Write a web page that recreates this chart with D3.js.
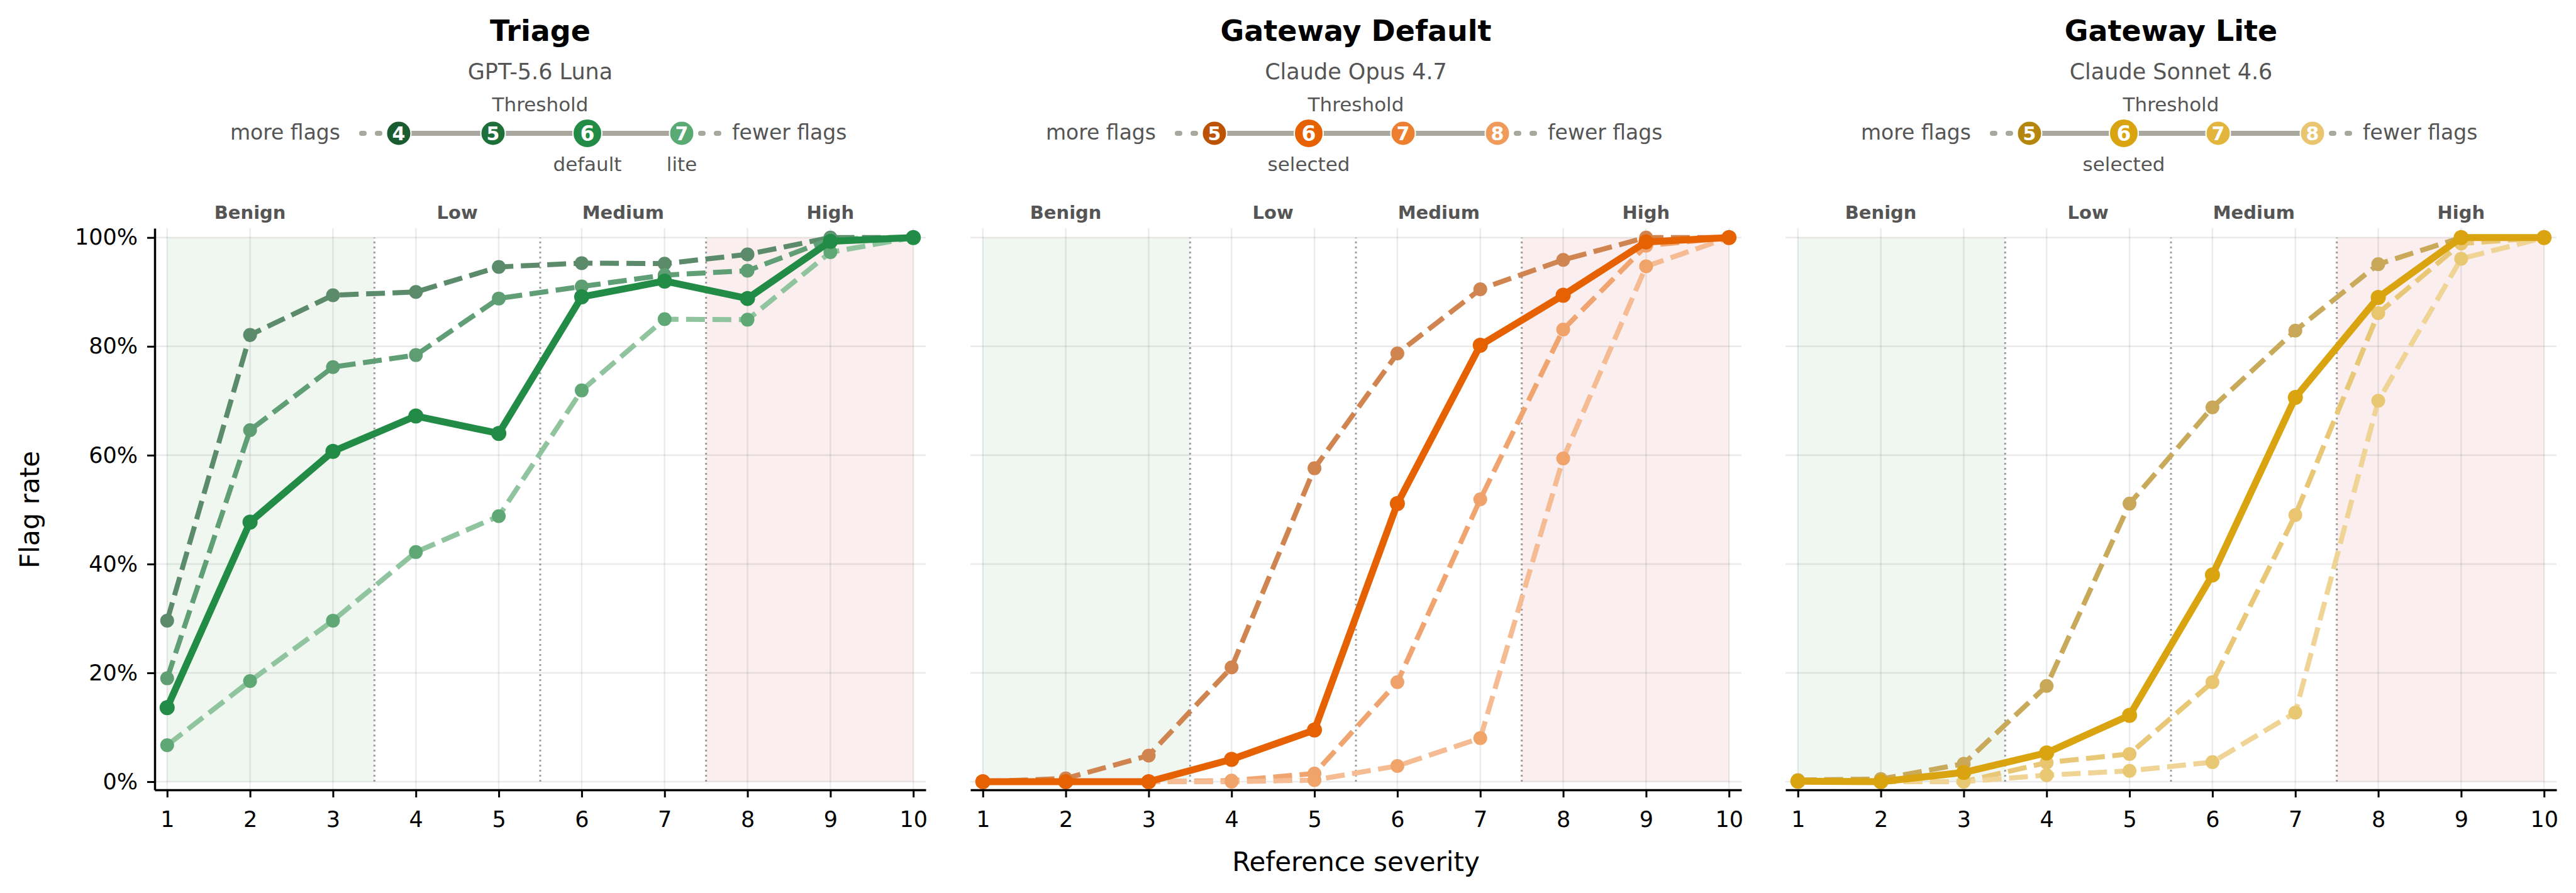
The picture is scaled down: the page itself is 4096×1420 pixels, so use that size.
<!DOCTYPE html>
<html>
<head>
<meta charset="utf-8">
<script src="https://cdn.jsdelivr.net/npm/d3@7"></script>
<style>
  body { margin: 0; background: #fff; }
  svg { display: block; font-family: "DejaVu Sans", sans-serif; }
</style>
</head>
<body>
<svg width="4096" height="1420"></svg>
<script>
'use strict'

// ---- data ----
const SEVERITY = [1, 2, 3, 4, 5, 6, 7, 8, 9, 10];
const Y_TICKS = [0, 0.2, 0.4, 0.6, 0.8, 1];
const BAND_NAMES = ['Benign', 'Low', 'Medium', 'High'];
const BAND_CENTERS = [2, 4.5, 6.5, 9];
const BAND_EDGES = [3.5, 5.5, 7.5];

const PANEL_TITLES = ['Triage', 'Gateway Default', 'Gateway Lite'];
const PANEL_MODELS = ['GPT-5.6 Luna', 'Claude Opus 4.7', 'Claude Sonnet 4.6'];
const PANEL_THRESHOLDS = [[4, 5, 6, 7], [5, 6, 7, 8], [5, 6, 7, 8]];
const PANEL_SELECTED = [6, 6, 6];
const THRESHOLD_NOTES = [{ 6: 'default', 7: 'lite' }, { 6: 'selected' }, { 6: 'selected' }];

// flag rate (%) by reference severity 1..10
const triage4 = [29.6, 82.1, 89.4, 90.0, 94.6, 95.3, 95.2, 96.9, 100, 100];
const triage5 = [19.0, 64.6, 76.2, 78.4, 88.8, 91.0, 93.1, 93.9, 99.7, 100];
const triage6 = [13.6, 47.7, 60.7, 67.2, 64.0, 89.1, 92.0, 88.8, 99.3, 100];
const triage7 = [6.7, 18.5, 29.6, 42.2, 48.8, 71.9, 85.0, 84.9, 97.3, 100];

const gwDefault5 = [0, 0.6, 4.8, 21.0, 57.6, 78.7, 90.5, 95.9, 100, 100];
const gwDefault6 = [0, 0, 0, 4.1, 9.5, 51.1, 80.2, 89.4, 99.2, 100];
const gwDefault7 = [0, 0, 0, 0.2, 1.5, 18.3, 51.9, 83.1, 98.5, 100];
const gwDefault8 = [0, 0, 0, 0, 0.3, 2.9, 8.0, 59.4, 94.7, 100];

const gwLite5 = [0.3, 0.5, 3.3, 17.6, 51.1, 68.8, 82.9, 95.1, 100, 100];
const gwLite6 = [0.1, 0, 1.7, 5.3, 12.2, 38.0, 70.6, 89.0, 100, 100];
const gwLite7 = [0, 0, 0, 3.5, 5.1, 18.3, 49.0, 86.1, 98.9, 100];
const gwLite8 = [0, 0, 0, 1.2, 2.0, 3.6, 12.7, 70.0, 96.1, 100];

const PANEL_RATES = [
  [triage4, triage5, triage6, triage7],
  [gwDefault5, gwDefault6, gwDefault7, gwDefault8],
  [gwLite5, gwLite6, gwLite7, gwLite8]
];

// ---- styles ----
const PALETTES = [
  {
    badge: ['#185c2f', '#1c7038', '#228b45', '#5aaa74'],
    line:  ['#5b8b6a', '#609e75', '#228b45', '#8fc49f'],
    dot:   ['#5b8b6a', '#5f9d73', '#228b45', '#5fa876']
  },
  {
    badge: ['#bb5204', '#e66101', '#ec7f30', '#f09a5c'],
    line:  ['#d0844f', '#e66101', '#f0a470', '#f5bb92'],
    dot:   ['#d0844f', '#e66101', '#f0a26c', '#f0a46a']
  },
  {
    badge: ['#b5860d', '#d9a40f', '#e2b53c', '#e8c56e'],
    line:  ['#c9a95a', '#d9a40f', '#e8c777', '#efd495'],
    dot:   ['#c9a85a', '#d9a40f', '#e8c56e', '#e8c872']
  }
];

const AX_LEFT = [246, 1543, 2839];
const AX_WIDTH = 1226;
const AX_TOP = 363;
const AX_BOTTOM = 1256;
const GREY_TEXT = '#555555';
const LEGEND_GREY = '#a9a89f';

const svg = d3.select('svg');

const y = d3.scaleLinear().domain([-0.015, 1.017]).range([AX_BOTTOM, AX_TOP]);

PANEL_TITLES.forEach((title, p) => drawPanel(p));

// shared labels
svg.append('text')
  .attr('transform', `translate(62, ${y(0.5)}) rotate(-90)`)
  .attr('text-anchor', 'middle')
  .style('font-size', '42px')
  .text('Flag rate');

svg.append('text')
  .attr('x', AX_LEFT[1] + AX_WIDTH / 2)
  .attr('y', 1385)
  .attr('text-anchor', 'middle')
  .style('font-size', '42px')
  .text('Reference severity');

function drawPanel(p) {
  const x = d3.scaleLinear().domain([0.85, 10.15]).range([AX_LEFT[p], AX_LEFT[p] + AX_WIDTH]);
  const pal = PALETTES[p];
  const thresholds = PANEL_THRESHOLDS[p];
  const g = svg.append('g');
  const cx = x(5.5);

  // header
  g.append('text').attr('x', cx).attr('y', 65).attr('text-anchor', 'middle')
    .style('font-size', '46px').style('font-weight', 'bold').text(PANEL_TITLES[p]);
  g.append('text').attr('x', cx).attr('y', 126).attr('text-anchor', 'middle')
    .style('font-size', '35px').attr('fill', GREY_TEXT).text(PANEL_MODELS[p]);
  g.append('text').attr('x', cx).attr('y', 177).attr('text-anchor', 'middle')
    .style('font-size', '31px').attr('fill', GREY_TEXT).text('Threshold');

  // threshold legend
  const legendY = 212;
  const step = 150;
  const lx = d3.scaleLinear().domain([0, thresholds.length - 1])
    .range([cx - step * (thresholds.length - 1) / 2, cx + step * (thresholds.length - 1) / 2]);
  const first = lx(0), last = lx(thresholds.length - 1);

  g.append('line').attr('x1', first).attr('x2', last).attr('y1', legendY).attr('y2', legendY)
    .attr('stroke', LEGEND_GREY).attr('stroke-width', 8);
  // dotted continuation beyond the ends
  [-32, -57, 32, 57].forEach(o => {
    const base = o < 0 ? first : last;
    g.append('line').attr('x1', base + o - 2).attr('x2', base + o + 2)
      .attr('y1', legendY).attr('y2', legendY)
      .attr('stroke', LEGEND_GREY).attr('stroke-width', 8).attr('stroke-linecap', 'round');
  });

  g.append('text').attr('x', first - 93).attr('y', legendY + 10).attr('text-anchor', 'end')
    .style('font-size', '33px').attr('fill', GREY_TEXT).text('more flags');
  g.append('text').attr('x', last + 80).attr('y', legendY + 10).attr('text-anchor', 'start')
    .style('font-size', '33px').attr('fill', GREY_TEXT).text('fewer flags');

  thresholds.forEach((t, i) => {
    const sel = t === PANEL_SELECTED[p];
    g.append('circle').attr('cx', lx(i)).attr('cy', legendY).attr('r', sel ? 23 : 19.5)
      .attr('fill', pal.badge[i]).attr('stroke', '#fff').attr('stroke-width', 2);
    g.append('text').attr('x', lx(i)).attr('y', legendY).attr('dy', '0.36em').attr('text-anchor', 'middle')
      .style('font-size', sel ? '33px' : '30px').style('font-weight', 'bold').attr('fill', '#fff').text(t);
    const note = THRESHOLD_NOTES[p][t];
    if (note) {
      g.append('text').attr('x', lx(i)).attr('y', 272).attr('text-anchor', 'middle')
        .style('font-size', '31px').attr('fill', GREY_TEXT).text(note);
    }
  });

  // severity bands
  g.append('rect').attr('x', x(1)).attr('width', x(BAND_EDGES[0]) - x(1))
    .attr('y', y(1)).attr('height', y(0) - y(1)).attr('fill', '#f0f7f0');
  g.append('rect').attr('x', x(BAND_EDGES[2])).attr('width', x(10) - x(BAND_EDGES[2]))
    .attr('y', y(1)).attr('height', y(0) - y(1)).attr('fill', '#faeeee');

  // grid
  g.selectAll('.vgrid').data(SEVERITY).join('line')
    .attr('x1', d => x(d)).attr('x2', d => x(d)).attr('y1', y.range()[0]).attr('y2', y.range()[1])
    .attr('stroke', '#000').attr('stroke-opacity', 0.08).attr('stroke-width', 2.5);
  g.selectAll('.hgrid').data(Y_TICKS).join('line')
    .attr('x1', x.range()[0]).attr('x2', x.range()[1]).attr('y1', d => y(d)).attr('y2', d => y(d))
    .attr('stroke', '#000').attr('stroke-opacity', 0.08).attr('stroke-width', 2.5);

  // band dividers
  g.selectAll('.divider').data(BAND_EDGES).join('line')
    .attr('x1', d => x(d)).attr('x2', d => x(d)).attr('y1', y(0)).attr('y2', y(1))
    .attr('stroke', '#888').attr('stroke-opacity', 0.8).attr('stroke-width', 3).attr('stroke-dasharray', '3,5');

  BAND_NAMES.forEach((name, i) => {
    g.append('text').attr('x', x(BAND_CENTERS[i])).attr('y', 348).attr('text-anchor', 'middle')
      .style('font-size', '29px').style('font-weight', 'bold').attr('fill', GREY_TEXT).text(name);
  });

  // series: dashed first, selected on top
  const line = d3.line().x((d, i) => x(SEVERITY[i])).y(d => y(d / 100));
  const order = thresholds.map((t, i) => i).sort((a, b) =>
    (thresholds[a] === PANEL_SELECTED[p]) - (thresholds[b] === PANEL_SELECTED[p]));
  order.forEach(i => {
    const sel = thresholds[i] === PANEL_SELECTED[p];
    const rates = PANEL_RATES[p][i];
    g.append('path').datum(rates).attr('d', line).attr('fill', 'none')
      .attr('stroke', pal.line[i]).attr('stroke-width', sel ? 11 : 8)
      .attr('stroke-dasharray', sel ? null : '30,12').attr('stroke-linejoin', 'round');
    g.selectAll(null).data(rates).join('circle')
      .attr('cx', (d, k) => x(SEVERITY[k])).attr('cy', d => y(d / 100))
      .attr('r', sel ? 12 : 11).attr('fill', pal.dot[i]);
  });

  // axes
  const xAxis = g.append('g').attr('transform', `translate(0, ${AX_BOTTOM})`)
    .call(d3.axisBottom(x).tickValues(SEVERITY).tickSize(12).tickSizeOuter(0).tickPadding(22));
  styleAxis(xAxis);
  if (p === 0) {
    const yAxis = g.append('g').attr('transform', `translate(${AX_LEFT[0]}, 0)`)
      .call(d3.axisLeft(y).tickValues(Y_TICKS).tickFormat(d3.format('.0%')).tickSize(12).tickSizeOuter(0).tickPadding(15));
    styleAxis(yAxis);
  }
}

function styleAxis(ax) {
  ax.select('.domain').attr('stroke', '#000').attr('stroke-width', 3.5);
  ax.selectAll('.tick line').attr('stroke', '#000').attr('stroke-width', 3);
  ax.selectAll('.tick text').attr('fill', '#000').style('font-size', '35px')
    .style('font-family', '"DejaVu Sans", sans-serif');
}
</script>
</body>
</html>
